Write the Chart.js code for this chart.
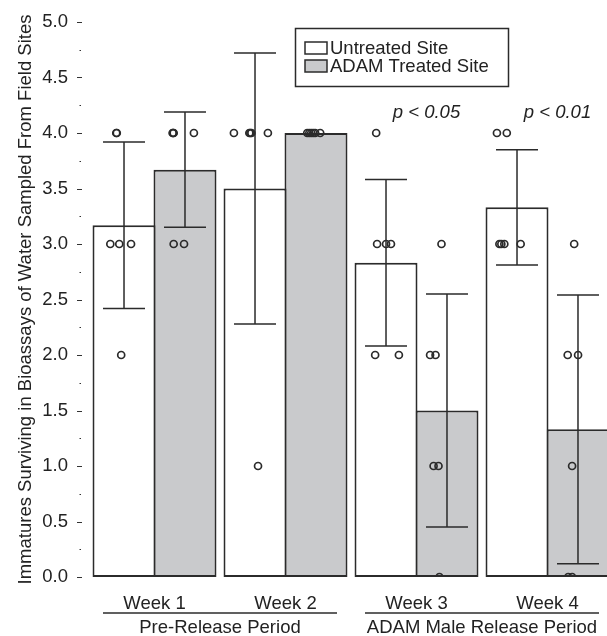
<!DOCTYPE html>
<html>
<head>
<meta charset="utf-8">
<script src="https://cdn.jsdelivr.net/npm/chart.js@4/dist/chart.umd.min.js"></script>
<style>
html,body{margin:0;padding:0;background:#fff;overflow:hidden;width:607px;height:636px}
#wrap{position:relative;width:613px;height:636px}
#wrap canvas{position:absolute;left:0;top:0;display:block}
</style>
</head>
<body>
<div id="wrap">
  <canvas id="bars" width="613" height="636"></canvas>
  <canvas id="dots" width="613" height="636"></canvas>
</div>
<script>
// ---- data ----
const weeks = ['Week 1','Week 2','Week 3','Week 4'];
const periods = ['Pre-Release Period','ADAM Male Release Period'];
const seriesNames = ['Untreated Site','ADAM Treated Site'];
const untreatedMean = [3.17, 3.5, 2.83, 3.33];
const treatedMean   = [3.67, 4.0, 1.5, 1.33];
const untreatedSD = [0.75, 1.22, 0.75, 0.52];
const treatedSD   = [0.52, 0, 1.05, 1.21];
const pLabels = [null, null, 'p < 0.05', 'p < 0.01'];
const yTicks = [0,0.5,1,1.5,2,2.5,3,3.5,4,4.5,5];

// individual bioassay counts per week
const untreatedPts = [[4,4,3,3,3,2],[4,4,4,4,4,1],[4,3,3,3,2,2],[4,4,3,3,3,3]];
const treatedPts   = [[4,4,4,4,3,3],[4,4,4,4,4,4],[3,2,2,1,1,0],[3,2,2,1,0,0]];
// horizontal jitter of each point (fraction of one week slot)
const untreatedJit = [
  [-0.057,-0.053,-0.103,-0.034,0.057,-0.019],
  [-0.150,-0.031,-0.023,-0.015,0.112,0.036],
  [-0.053,-0.046,0.023,0.061,-0.061,0.122],
  [-0.122,-0.046,-0.103,-0.088,-0.065,0.061]
];
const treatedJit = [
  [-0.088,-0.084,-0.080,0.076,-0.080,0],
  [-0.050,-0.034,-0.019,-0.004,0.011,0.050],
  [-0.015,-0.103,-0.061,-0.076,-0.038,-0.031],
  [0.008,-0.042,0.038,-0.008,-0.038,-0.008]
];

const INK = '#222';
const EDGE = '#2b2b2b';
const GRAY = '#c9cacc';
const CAT_PCT = 0.931;
const BAR_PCT = 1.033;   // slight overlap so touching bars share one edge
const FONT = '"Liberation Sans", Arial, sans-serif';

Chart.defaults.font.family = FONT;
Chart.defaults.color = INK;

function pts(vals, jit, side) {
  const out = [];
  vals.forEach((arr, i) => arr.forEach((v, k) => {
    out.push({x: i + side * CAT_PCT / 4 + jit[i][k], y: v});
  }));
  return out;
}

const errorBars = {
  id: 'errorBars',
  afterDatasetsDraw(chart) {
    const ctx = chart.ctx, y = chart.scales.y;
    ctx.save();
    ctx.strokeStyle = EDGE;
    ctx.lineWidth = 1.5;
    [untreatedSD, treatedSD].forEach((sd, d) => {
      const means = chart.data.datasets[d].data;
      chart.getDatasetMeta(d).data.forEach((bar, i) => {
        if (!sd[i]) return;
        const t = y.getPixelForValue(means[i] + sd[i]);
        const b = y.getPixelForValue(means[i] - sd[i]);
        ctx.beginPath();
        ctx.moveTo(bar.x, t); ctx.lineTo(bar.x, b);
        ctx.moveTo(bar.x - 21, t); ctx.lineTo(bar.x + 21, t);
        ctx.moveTo(bar.x - 21, b); ctx.lineTo(bar.x + 21, b);
        ctx.stroke();
      });
    });
    ctx.restore();
  }
};

const decorations = {
  id: 'decorations',
  afterDraw(chart) {
    const ctx = chart.ctx, y = chart.scales.y, x = chart.scales.x;
    const area = chart.chartArea;
    ctx.save();
    // y tick marks, minor ones between labels
    ctx.strokeStyle = '#333';
    ctx.lineWidth = 1;
    ctx.beginPath();
    for (let k = 0; k <= 20; k++) {
      const py = Math.round(y.getPixelForValue(k * 0.25)) + 0.5;
      const major = k % 2 === 0;
      ctx.moveTo(area.left - (major ? 12 : 9.5), py);
      ctx.lineTo(area.left - (major ? 7 : 8), py);
    }
    ctx.stroke();

    // period labels with rule
    ctx.fillStyle = INK;
    ctx.strokeStyle = EDGE;
    ctx.font = '18.5px ' + FONT;
    ctx.textAlign = 'center';
    ctx.textBaseline = 'middle';
    ctx.lineWidth = 1.5;
    periods.forEach((p, j) => {
      const cx = (x.getPixelForValue(2 * j) + x.getPixelForValue(2 * j + 1)) / 2;
      ctx.beginPath();
      ctx.moveTo(cx - 117, area.bottom + 36);
      ctx.lineTo(cx + 117, area.bottom + 36);
      ctx.stroke();
      ctx.fillText(p, cx, area.bottom + 51);
    });

    // p values
    ctx.font = 'italic 18.5px ' + FONT;
    pLabels.forEach((t, i) => {
      if (t) ctx.fillText(t, x.getPixelForValue(i) + 10, y.getPixelForValue(4.18));
    });

    // legend box
    const lx = area.left + 206, ly = area.top + 6;
    ctx.lineWidth = 1.5;
    ctx.strokeRect(lx + 0.5, ly + 0.5, 213, 58);
    ctx.font = '18.5px ' + FONT;
    ctx.textAlign = 'left';
    chart.data.datasets.forEach((ds, d) => {
      const ry = ly + 14 + d * 18;
      ctx.fillStyle = ds.backgroundColor;
      ctx.fillRect(lx + 10, ry, 22, 12);
      ctx.strokeRect(lx + 10, ry, 22, 12);
      ctx.fillStyle = INK;
      ctx.fillText(ds.label, lx + 35, ry + 6.5);
    });
    ctx.restore();
  }
};

// bars, error bars, axes
new Chart(document.getElementById('bars'), {
  type: 'bar',
  data: {
    labels: weeks,
    datasets: [
      {label: seriesNames[0], data: untreatedMean,
       backgroundColor: '#ffffff', borderColor: EDGE, borderWidth: 2, borderSkipped: false,
       categoryPercentage: CAT_PCT, barPercentage: BAR_PCT},
      {label: seriesNames[1], data: treatedMean,
       backgroundColor: GRAY, borderColor: EDGE, borderWidth: 2, borderSkipped: false,
       categoryPercentage: CAT_PCT, barPercentage: BAR_PCT}
    ]
  },
  options: {
    responsive: false,
    animation: false,
    layout: {padding: {top: 22, right: 0, bottom: 0, left: 0}},
    plugins: {legend: {display: false}, tooltip: {enabled: false}},
    scales: {
      x: {
        grid: {display: false, tickLength: 0}, border: {display: false},
        ticks: {font: {size: 18.5}, color: INK, padding: 16, maxRotation: 0},
        afterFit(s) { s.height = 59; }
      },
      y: {
        min: 0, max: 5,
        grid: {display: false, tickLength: 21}, border: {display: false},
        afterBuildTicks(s) { s.ticks = yTicks.map(v => ({value: v})); },
        ticks: {font: {size: 18.5}, color: INK, padding: 0,
                callback: v => Number(v).toFixed(1)},
        title: {display: true,
                text: 'Immatures Surviving in Bioassays of Water Sampled From Field Sites',
                font: {size: 18.5}, color: INK, padding: {top: 15, bottom: 0}},
        afterFit(s) { s.width = 89; }
      }
    }
  },
  plugins: [errorBars, decorations]
});

// individual points, same plot area on a transparent layer
const dotStyle = {pointRadius: 3.5, pointBorderWidth: 1.7, pointBorderColor: EDGE,
  pointBackgroundColor: 'rgba(0,0,0,0)', pointHoverRadius: 3.5};
new Chart(document.getElementById('dots'), {
  type: 'scatter',
  data: {
    datasets: [
      Object.assign({label: seriesNames[0], data: pts(untreatedPts, untreatedJit, -1)}, dotStyle),
      Object.assign({label: seriesNames[1], data: pts(treatedPts, treatedJit, 1)}, dotStyle)
    ]
  },
  options: {
    responsive: false,
    animation: false,
    layout: {padding: {top: 22, right: 0, bottom: 0, left: 0}},
    plugins: {legend: {display: false}, tooltip: {enabled: false}},
    scales: {
      x: {type: 'linear', min: -0.5, max: 3.5, offset: false,
          grid: {display: false}, border: {display: false}, ticks: {display: false},
          afterFit(s) { s.height = 59; }},
      y: {min: 0, max: 5,
          grid: {display: false}, border: {display: false}, ticks: {display: false},
          afterFit(s) { s.width = 89; }}
    }
  }
});
</script>
</body>
</html>
